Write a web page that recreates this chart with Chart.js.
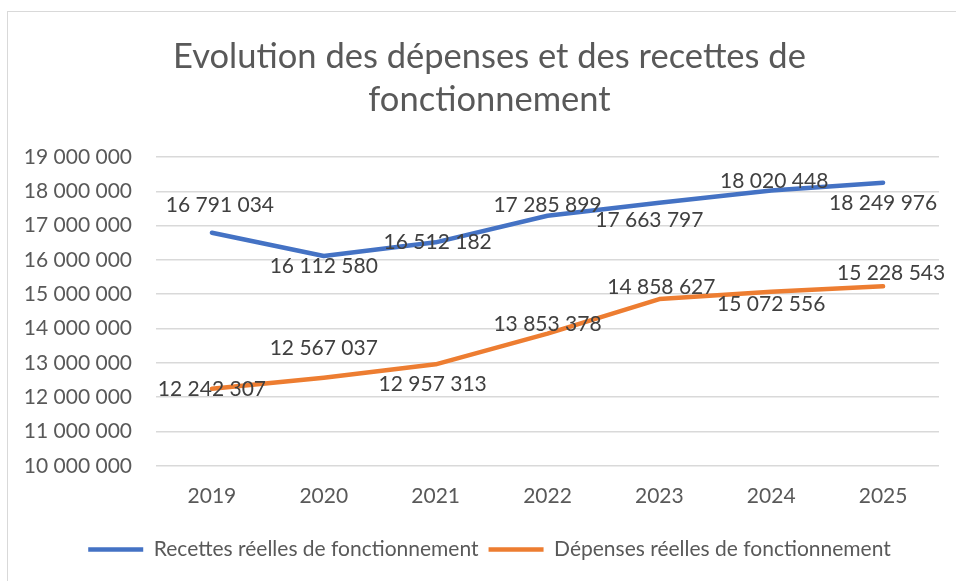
<!DOCTYPE html>
<html lang="fr">
<head>
<meta charset="utf-8">
<title>Evolution des dépenses et des recettes de fonctionnement</title>
<script src="https://cdn.jsdelivr.net/npm/chart.js@4.4.1/dist/chart.umd.min.js"></script>
<style>
  html, body { margin: 0; padding: 0; background: #fff; }
  #wrap { position: relative; width: 956px; height: 581px; overflow: hidden; }
  #frame { position: absolute; left: 7px; top: 11px; width: 1000px; height: 1000px;
           border-top: 1.5px solid #d9d9d9; border-left: 1.5px solid #d9d9d9; }
  canvas { position: absolute; left: 0; top: 0; }
</style>
</head>
<body>
<div id="wrap">
  <div id="frame"></div>
  <canvas id="chart" width="956" height="581"></canvas>
</div>
<script>
// ---- data ----
const years = ["2019", "2020", "2021", "2022", "2023", "2024", "2025"];
const recettes = [16791034, 16112580, 16512182, 17285899, 17663797, 18020448, 18249976];
const depenses = [12242307, 12567037, 12957313, 13853378, 14858627, 15072556, 15228543];
const yTicks = [10000000, 11000000, 12000000, 13000000, 14000000, 15000000, 16000000, 17000000, 18000000, 19000000];

// where each value label sits relative to its point (px), like the hand-placed Excel labels
const recettesLabelShift = [[8, -28], [0, 10], [2, 0], [0, -11], [-10, 17], [3, -9], [0, 21]];
const depensesLabelShift = [[0, 0], [0, -29], [-3, 20], [0, -9], [2, -12], [0, 13], [8, -13]];

const FONT = "Lato, 'Open Sans', 'Noto Sans', sans-serif";
const fmt = (v) => String(Math.round(v)).replace(/\B(?=(\d{3})+(?!\d))/g, " ");

// draws the value labels next to each point
const valueLabels = {
  id: "valueLabels",
  afterDatasetsDraw(chart) {
    const ctx = chart.ctx;
    ctx.save();
    ctx.font = "21px " + FONT;
    ctx.fillStyle = "#404040";
    ctx.textAlign = "center";
    ctx.textBaseline = "middle";
    chart.data.datasets.forEach((ds, i) => {
      const meta = chart.getDatasetMeta(i);
      meta.data.forEach((pt, j) => {
        const [dx, dy] = ds.labelShift[j];
        ctx.fillText(fmt(ds.data[j]), pt.x + dx, pt.y + dy);
      });
    });
    ctx.restore();
  },
};

// the Excel chart was cropped on the left, so title & legend sit a bit right of the canvas middle
const shiftBoxes = {
  id: "shiftBoxes",
  afterLayout(chart) {
    [chart.titleBlock, chart.legend].forEach((box) => {
      if (!box) return;
      box.left += 20;
      box.right += 20;
    });
  },
};

new Chart(document.getElementById("chart"), {
  type: "line",
  data: {
    labels: years,
    datasets: [
      {
        label: "Recettes réelles de fonctionnement",
        data: recettes,
        labelShift: recettesLabelShift,
        borderColor: "#4472C4",
        backgroundColor: "#4472C4",
        borderWidth: 4.5,
        borderCapStyle: "round",
        borderJoinStyle: "round",
        pointRadius: 0,
        pointStyle: "line",
        tension: 0,
      },
      {
        label: "Dépenses réelles de fonctionnement",
        data: depenses,
        labelShift: depensesLabelShift,
        borderColor: "#ED7D31",
        backgroundColor: "#ED7D31",
        borderWidth: 4.5,
        borderCapStyle: "round",
        borderJoinStyle: "round",
        pointRadius: 0,
        pointStyle: "line",
        tension: 0,
      },
    ],
  },
  options: {
    responsive: false,
    animation: false,
    layout: { padding: { left: 0, right: 17, top: 0, bottom: 11 } },
    scales: {
      x: {
        offset: true,
        grid: { display: false, drawTicks: false, offset: true },
        border: { display: false },
        ticks: { color: "#595959", font: { family: FONT, size: 21 }, padding: 18 },
        afterFit: (scale) => { scale.height += 2; },
      },
      y: {
        min: 10000000,
        max: 19000000,
        afterBuildTicks: (scale) => { scale.ticks = yTicks.map((v) => ({ value: v })); },
        afterFit: (scale) => { scale.width = 156; },
        grid: { color: "#d9d9d9", lineWidth: 1.5, drawTicks: false },
        border: { display: false },
        ticks: {
          color: "#595959",
          font: { family: FONT, size: 21 },
          padding: 24,
          callback: (v) => fmt(v),
        },
      },
    },
    plugins: {
      title: {
        display: true,
        text: ["Evolution des dépenses et des recettes de", "fonctionnement"],
        color: "#595959",
        font: { family: FONT, size: 34.5, weight: "normal", lineHeight: 1.26 },
        padding: { top: 35, bottom: 35 },
      },
      legend: {
        position: "bottom",
        labels: {
          usePointStyle: true,
          pointStyleWidth: 55,
          color: "#595959",
          font: { family: FONT, size: 21 },
          padding: 10,
        },
      },
      tooltip: { enabled: false },
    },
  },
  plugins: [valueLabels, shiftBoxes],
});
</script>
</body>
</html>
